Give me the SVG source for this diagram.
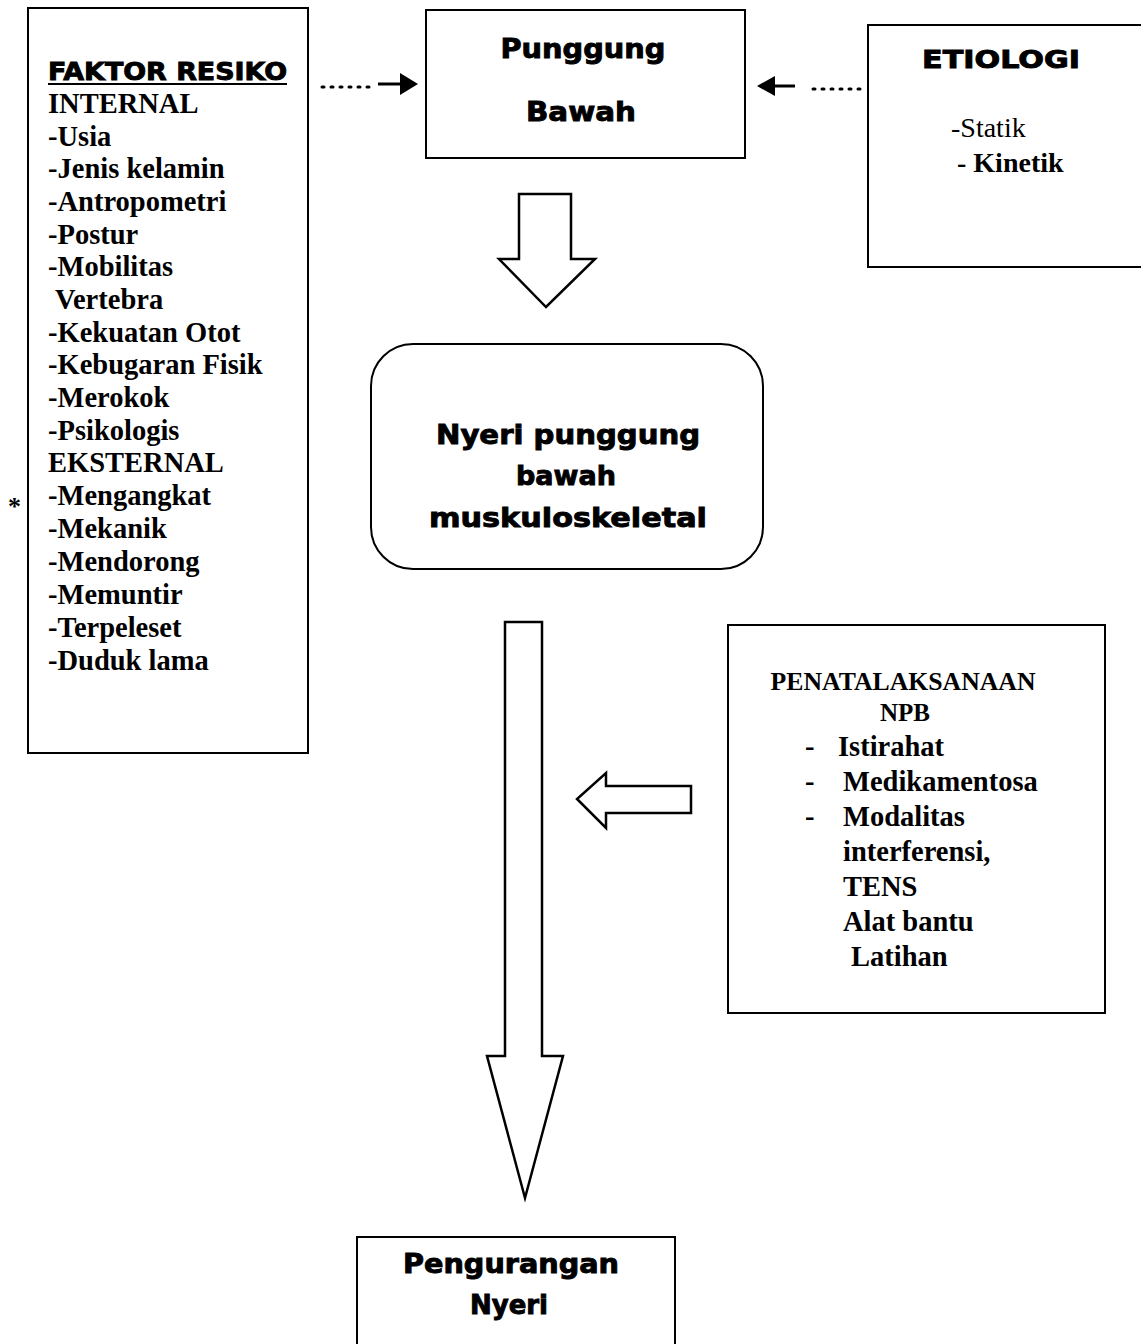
<svg xmlns="http://www.w3.org/2000/svg" width="1141" height="1344" viewBox="0 0 1141 1344">
<style>
.box{fill:#fff;stroke:#000;stroke-width:2}
.blk{font-family:"DejaVu Sans","Liberation Sans",sans-serif;font-weight:bold;fill:#000;stroke:#000;stroke-width:0.9}
.ser{font-family:"Liberation Serif","Times New Roman",serif;font-weight:bold;fill:#000}
.dot{stroke:#000;stroke-width:3;stroke-dasharray:2 7;stroke-linecap:round;fill:none}
.ln{stroke:#000;stroke-width:3;fill:none}
.head{fill:#000}
.fat{fill:#fff;stroke:#000;stroke-width:2.5;stroke-linejoin:miter}
</style>
<rect width="1141" height="1344" fill="#fff"/>

<g id="faktor-resiko">
<rect class="box" x="28" y="8" width="280" height="745"/>
<text class="blk" x="48" y="80" font-size="24" textLength="239" lengthAdjust="spacingAndGlyphs">FAKTOR RESIKO</text>
<line x1="48" y1="84" x2="287" y2="84" stroke="#000" stroke-width="2"/>
<g class="ser" font-size="28.5">
<text x="48" y="113">INTERNAL</text>
<text x="48" y="146">-Usia</text>
<text x="48" y="178">-Jenis kelamin</text>
<text x="48" y="211">-Antropometri</text>
<text x="48" y="244">-Postur</text>
<text x="48" y="276">-Mobilitas</text>
<text x="55" y="309">Vertebra</text>
<text x="48" y="342">-Kekuatan Otot</text>
<text x="48" y="374">-Kebugaran Fisik</text>
<text x="48" y="407">-Merokok</text>
<text x="48" y="440">-Psikologis</text>
<text x="48" y="472">EKSTERNAL</text>
<text x="48" y="505">-Mengangkat</text>
<text x="48" y="538">-Mekanik</text>
<text x="48" y="571">-Mendorong</text>
<text x="48" y="604">-Memuntir</text>
<text x="48" y="637">-Terpeleset</text>
<text x="48" y="670">-Duduk lama</text>
</g>
<text class="ser" x="8" y="515" font-size="26">*</text>
</g>

<g id="punggung-bawah">
<rect class="box" x="426" y="10" width="319" height="148"/>
<text class="blk" x="583" y="58" font-size="27" text-anchor="middle" textLength="165" lengthAdjust="spacingAndGlyphs">Punggung</text>
<text class="blk" x="581" y="121" font-size="27" text-anchor="middle" textLength="110" lengthAdjust="spacingAndGlyphs">Bawah</text>
</g>

<g id="etiologi">
<rect class="box" x="868" y="25" width="280" height="242"/>
<text class="blk" x="922" y="68" font-size="24" textLength="158" lengthAdjust="spacingAndGlyphs">ETIOLOGI</text>
<text class="ser" x="951" y="137" font-size="28" style="font-weight:normal">-Statik</text>
<text class="ser" x="957" y="172" font-size="28">- Kinetik</text>
</g>

<g id="nyeri-punggung-bawah">
<rect class="box" x="371" y="344" width="392" height="225" rx="42" ry="42"/>
<text class="blk" x="568" y="444" font-size="27" text-anchor="middle" textLength="264" lengthAdjust="spacingAndGlyphs">Nyeri punggung</text>
<text class="blk" x="566" y="485" font-size="27" text-anchor="middle">bawah</text>
<text class="blk" x="568" y="527" font-size="27" text-anchor="middle" textLength="278" lengthAdjust="spacingAndGlyphs">muskuloskeletal</text>
</g>

<g id="penatalaksanaan">
<rect class="box" x="728" y="625" width="377" height="388"/>
<g class="ser" font-size="25">
<text x="903" y="690" text-anchor="middle" textLength="265" lengthAdjust="spacingAndGlyphs">PENATALAKSANAAN</text>
<text x="905" y="721" text-anchor="middle">NPB</text>
</g>
<g class="ser" font-size="28.5">
<text x="805" y="756">-</text>
<text x="838" y="756">Istirahat</text>
<text x="805" y="791">-</text>
<text x="843" y="791">Medikamentosa</text>
<text x="805" y="826">-</text>
<text x="843" y="826">Modalitas</text>
<text x="843" y="861">interferensi,</text>
<text x="843" y="896">TENS</text>
<text x="843" y="931">Alat bantu</text>
<text x="851" y="966">Latihan</text>
</g>
</g>

<g id="pengurangan-nyeri">
<rect class="box" x="357" y="1237" width="318" height="120"/>
<text class="blk" x="511" y="1273" font-size="26" text-anchor="middle" textLength="216" lengthAdjust="spacingAndGlyphs">Pengurangan</text>
<text class="blk" x="509" y="1314" font-size="26" text-anchor="middle">Nyeri</text>
</g>

<g id="connectors">
<line class="dot" x1="322" y1="87" x2="374" y2="87"/>
<line class="ln" x1="378" y1="84" x2="402" y2="84"/>
<polygon class="head" points="400,73 418,84 400,95"/>
<line class="dot" x1="860" y1="89" x2="808" y2="89"/>
<line class="ln" x1="795" y1="86" x2="772" y2="86"/>
<polygon class="head" points="775,76 757,86 775,96"/>
<path class="fat" d="M519,194 H571 V259 H595 L546,307 L499,259 H519 Z"/>
<path class="fat" d="M505,622 H542 V1056 H563 L525,1198 L487,1056 H505 Z"/>
<path class="fat" d="M691,786 V813 H606 V828 L577,799 L606,773 V786 Z"/>
</g>
</svg>
